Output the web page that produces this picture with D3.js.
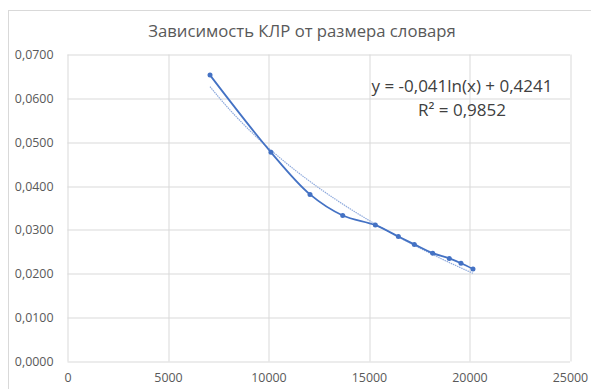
<!DOCTYPE html>
<html>
<head>
<meta charset="utf-8">
<script src="https://cdnjs.cloudflare.com/ajax/libs/d3/7.8.5/d3.min.js"></script>
<style>
  body { margin: 0; background: #fff; }
  text { font-family: "Open Sans", sans-serif; }
</style>
</head>
<body>
<div id="chart"></div>
<script>
"use strict";

// data
var dictSize = [7090, 10124, 12065, 13692, 15316, 16460, 17256, 18169, 18995, 19577, 20174];
var klr = [0.0653, 0.0477, 0.0381, 0.0333, 0.0311, 0.0285, 0.0267, 0.0247, 0.0235, 0.0224, 0.0211];
var xTicks = [0, 5000, 10000, 15000, 20000, 25000];
var yTicks = [0, 0.01, 0.02, 0.03, 0.04, 0.05, 0.06, 0.07];
var titleText = "Зависимость КЛР от размера словаря";
var eqText = "y = -0,041ln(x) + 0,4241";
var r2Text = "R² = 0,9852";

var W = 591, H = 389;
var margin = { top: 54.5, right: 21, bottom: 27.5, left: 67.5 },
    width = W - margin.left - margin.right,
    height = H - margin.top - margin.bottom;

var root = d3.select("#chart").append("svg")
  .attr("width", W).attr("height", H);

// chart frame
root.append("rect")
  .attr("x", 8.5).attr("y", 10.5)
  .attr("width", W).attr("height", H)
  .attr("fill", "#fff").attr("stroke", "#d9d9d9");

root.append("text")
  .attr("x", 302).attr("y", 37)
  .attr("text-anchor", "middle")
  .attr("fill", "#595959")
  .style("font-size", "16.7px")
  .text(titleText);

var svg = root.append("g")
  .attr("transform", "translate(" + margin.left + "," + margin.top + ")");

var x = d3.scaleLinear().domain([0, 25000]).range([0, width]);
var y = d3.scaleLinear().domain([0, 0.07]).range([height, 0]);

// gridlines
svg.selectAll(".hgrid").data(yTicks).enter().append("line")
  .attr("x1", 0).attr("x2", width)
  .attr("y1", function (d) { return Math.round(y(d)) + 0.5; })
  .attr("y2", function (d) { return Math.round(y(d)) + 0.5; })
  .attr("stroke", "#d9d9d9");
svg.selectAll(".vgrid").data(xTicks).enter().append("line")
  .attr("y1", 0).attr("y2", height)
  .attr("x1", function (d) { return Math.round(x(d)) + 0.5; })
  .attr("x2", function (d) { return Math.round(x(d)) + 0.5; })
  .attr("stroke", "#d9d9d9");

// axes (labels only)
var yAxis = d3.axisLeft(y).tickValues(yTicks).tickSize(0).tickPadding(14)
  .tickFormat(function (d) { return d3.format(".4f")(d).replace(".", ","); });
var xAxis = d3.axisBottom(x).tickValues(xTicks).tickSize(0).tickPadding(12)
  .tickFormat(d3.format("d"));

var ga = svg.append("g").call(yAxis);
var gb = svg.append("g").attr("transform", "translate(0," + height + ")").call(xAxis);
[ga, gb].forEach(function (g) {
  g.select(".domain").remove();
  g.selectAll("text").attr("fill", "#595959").style("font-size", "12.4px")
    .style("font-family", "'Open Sans', sans-serif");
});

var pts = dictSize.map(function (d, i) { return [d, klr[i]]; });

// logarithmic trendline (least squares on ln x)
var lx = pts.map(function (p) { return Math.log(p[0]); });
var mx = d3.mean(lx), my = d3.mean(klr);
var a = d3.sum(lx, function (v, i) { return (v - mx) * (klr[i] - my); }) /
        d3.sum(lx, function (v) { return (v - mx) * (v - mx); });
var b = my - a * mx;
var xs = d3.range(dictSize[0], dictSize[dictSize.length - 1], 100).concat([dictSize[dictSize.length - 1]]);
svg.append("path")
  .datum(xs)
  .attr("fill", "none")
  .attr("stroke", "#8faadc")
  .attr("stroke-width", 1.2)
  .attr("stroke-dasharray", "1.5,0.8")
  .attr("d", d3.line()
    .x(function (d) { return x(d); })
    .y(function (d) { return y(a * Math.log(d) + b); }));

// series
svg.append("path")
  .datum(pts)
  .attr("fill", "none")
  .attr("stroke", "#4472c4")
  .attr("stroke-width", 1.8)
  .attr("d", d3.line().curve(d3.curveCatmullRom.alpha(0.5))
    .x(function (d) { return x(d[0]); })
    .y(function (d) { return y(d[1]); }));

svg.selectAll(".pt").data(pts).enter().append("circle")
  .attr("cx", function (d) { return x(d[0]); })
  .attr("cy", function (d) { return y(d[1]); })
  .attr("r", 2.5)
  .attr("fill", "#4472c4");

// trendline label
root.append("text")
  .attr("x", 462).attr("y", 92)
  .attr("text-anchor", "middle")
  .attr("fill", "#404040")
  .style("font-size", "17px")
  .text(eqText);
root.append("text")
  .attr("x", 462).attr("y", 115.5)
  .attr("text-anchor", "middle")
  .attr("fill", "#404040")
  .style("font-size", "17px")
  .text(r2Text);
</script>
</body>
</html>
